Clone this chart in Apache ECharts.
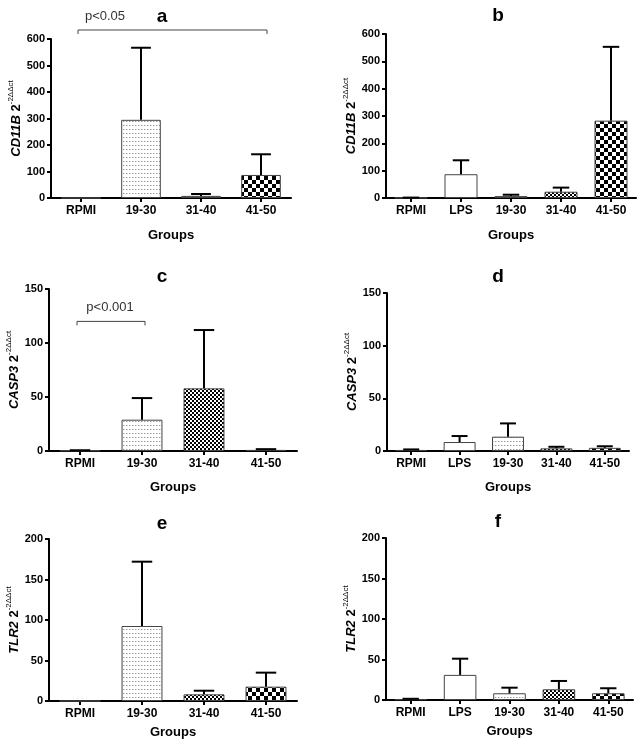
<!DOCTYPE html>
<html>
<head>
<meta charset="utf-8">
<script src="https://cdn.jsdelivr.net/npm/echarts@6/dist/echarts.min.js"></script>
<style>
html,body{margin:0;padding:0;background:#fff;}
#chart{width:638px;height:744px;}
</style>
</head>
<body>
<div id="chart"></div>
<script>
// ---------- DATA ----------
const groups4 = ['RPMI', '19-30', '31-40', '41-50'];
const groups5 = ['RPMI', 'LPS', '19-30', '31-40', '41-50'];

// CD11B (a: 4 groups, b: 5 groups) mean and upper error (SEM)
const cd11bA_mean = [0, 295, 8, 87];
const cd11bA_err  = [0, 272, 7, 78];
const cd11bB_mean = [1, 87, 7, 23, 283];
const cd11bB_err  = [0.5, 51, 5, 15, 270];

// CASP3
const casp3C_mean = [0.5, 29, 58, 1];
const casp3C_err  = [0.2, 20, 54, 0.7];
const casp3D_mean = [1, 8.5, 13.6, 2.5, 3];
const casp3D_err  = [0.5, 5.7, 12.6, 1.5, 1.5];

// TLR2
const tlr2E_mean = [0, 92.6, 8.2, 17.7];
const tlr2E_err  = [0, 79.4, 4.5, 17.3];
const tlr2F_mean = [1, 31, 8.3, 13.2, 8.3];
const tlr2F_err  = [0.5, 20, 6.9, 10.3, 6.2];

const yTicksCD11B = [0, 600, 100];
const yTicksCASP3 = [0, 150, 50];
const yTicksTLR2  = [0, 200, 50];

// significance brackets: [startIndex, endIndex, value]
const bracketA = [[0, 3, 634]];
const bracketC = [[0, 1, 120]];

// ---------- STYLES ----------
function makeCanvas(w, h, draw) {
  const c = document.createElement('canvas');
  c.width = w; c.height = h;
  const ctx = c.getContext('2d');
  ctx.fillStyle = '#fff'; ctx.fillRect(0, 0, w, h);
  draw(ctx);
  return c;
}
const dotsCanvas = makeCanvas(3, 4, ctx => { ctx.fillStyle = '#999'; ctx.fillRect(0, 1, 1, 1); ctx.fillStyle = '#d4d4d4'; ctx.fillRect(1, 1, 1, 1); });
const fineCanvas = makeCanvas(4, 4, ctx => { ctx.fillStyle = '#000'; ctx.fillRect(0, 0, 2, 2); ctx.fillRect(2, 2, 2, 2); });
const largeCanvas = makeCanvas(8, 8, ctx => { ctx.fillStyle = '#000'; ctx.fillRect(0, 0, 4, 4); ctx.fillRect(4, 4, 4, 4); });
const fills = {
  white: '#ffffff',
  dots: { image: dotsCanvas, repeat: 'repeat' },
  fine: { image: fineCanvas, repeat: 'repeat' },
  large: { image: largeCanvas, repeat: 'repeat' }
};
const fillByGroup = { 'RPMI': 'white', 'LPS': 'white', '19-30': 'dots', '31-40': 'fine', '41-50': 'large' };

const FONT = 'Arial, "Liberation Sans", Helvetica, sans-serif';

const panels = [
  { cats: groups4, mean: cd11bA_mean, err: cd11bA_err, ticks: yTicksCD11B, gene: 'CD11B', grid: { left: 51, top: 39, width: 240, height: 159 }, nameGap: 31, bracket: bracketA, extendRight: 6 },
  { cats: groups5, mean: cd11bB_mean, err: cd11bB_err, ticks: yTicksCD11B, gene: 'CD11B', grid: { left: 386, top: 34, width: 250, height: 164 }, nameGap: 31 },
  { cats: groups4, mean: casp3C_mean, err: casp3C_err, ticks: yTicksCASP3, gene: 'CASP3', grid: { left: 49, top: 289, width: 248, height: 162 }, nameGap: 30, bracket: bracketC, extendRight: 3 },
  { cats: groups5, mean: casp3D_mean, err: casp3D_err, ticks: yTicksCASP3, gene: 'CASP3', grid: { left: 387, top: 293, width: 242, height: 158 }, nameGap: 30 },
  { cats: groups4, mean: tlr2E_mean, err: tlr2E_err, ticks: yTicksTLR2, gene: 'TLR2', grid: { left: 49, top: 539, width: 248, height: 162 }, nameGap: 25 },
  { cats: groups5, mean: tlr2F_mean, err: tlr2F_err, ticks: yTicksTLR2, gene: 'TLR2', grid: { left: 386, top: 538, width: 247, height: 162 }, nameGap: 25 }
];

const grid = [], xAxis = [], yAxis = [], series = [];
panels.forEach((p, k) => {
  grid.push(Object.assign({ containLabel: false }, p.grid));
  xAxis.push({
    type: 'category', gridIndex: k, data: p.cats,
    axisLine: { show: true, lineStyle: { color: '#000', width: 2 } },
    axisTick: { show: true, alignWithLabel: true, length: 4, lineStyle: { color: '#000', width: 2 } },
    axisLabel: { color: '#000', fontWeight: 'bold', fontSize: 12, fontFamily: FONT, margin: 7, interval: 0 },
    name: 'Groups', nameLocation: 'middle', nameGap: p.nameGap,
    nameTextStyle: { color: '#000', fontWeight: 'bold', fontSize: 13, fontFamily: FONT }
  });
  yAxis.push({
    type: 'value', gridIndex: k, min: p.ticks[0], max: p.ticks[1], interval: p.ticks[2],
    axisLine: { show: true, lineStyle: { color: '#000', width: 2 } },
    axisTick: { show: true, length: 4, lineStyle: { color: '#000', width: 2 } },
    splitLine: { show: false },
    axisLabel: { color: '#000', fontWeight: 'bold', fontSize: 11, fontFamily: FONT, margin: 6 },
    name: '{g|' + p.gene + '}{n| 2}{s|-2ΔΔct}',
    nameLocation: 'middle', nameRotate: 90, nameGap: 27,
    nameTextStyle: {
      color: '#000', fontFamily: FONT,
      rich: {
        g: { fontStyle: 'italic', fontWeight: 'bold', fontSize: 13, fontFamily: FONT, color: '#000', lineHeight: 16, verticalAlign: 'bottom' },
        n: { fontWeight: 'bold', fontSize: 13, fontFamily: FONT, color: '#000', lineHeight: 16, verticalAlign: 'bottom' },
        s: { fontSize: 8, fontFamily: FONT, color: '#000', lineHeight: 9, verticalAlign: 'top' }
      }
    }
  });
  series.push({
    type: 'bar', xAxisIndex: k, yAxisIndex: k, barWidth: '66%',
    data: p.mean.map((v, i) => ({ value: v, itemStyle: { color: fills[fillByGroup[p.cats[i]]], borderColor: '#444', borderWidth: 1 } })),
    silent: true
  });
  series.push({
    type: 'custom', xAxisIndex: k, yAxisIndex: k, clip: false, z: 5,
    data: p.mean.map((v, i) => [i, v, v + p.err[i]]),
    encode: { x: 0, y: [1, 2] },
    renderItem: function (params, api) {
      const lo = api.value(1), hi = api.value(2);
      if (hi - lo <= 0) return null;
      const p0 = api.coord([api.value(0), lo]);
      const p1 = api.coord([api.value(0), hi]);
      const band = api.size([1, 0])[0];
      const half = band * 0.66 / 4;
      const st = { stroke: '#000', lineWidth: 2 };
      return {
        type: 'group', children: [
          { type: 'line', shape: { x1: p0[0], y1: p0[1], x2: p1[0], y2: p1[1] }, style: st },
          { type: 'line', shape: { x1: p1[0] - half, y1: p1[1], x2: p1[0] + half, y2: p1[1] }, style: st }
        ]
      };
    }
  });
  if (p.bracket) {
    const ext = p.extendRight || 0;
    series.push({
      type: 'custom', xAxisIndex: k, yAxisIndex: k, clip: false, z: 5,
      data: p.bracket,
      encode: { x: [0, 1], y: 2 },
      renderItem: function (params, api) {
        const a = api.coord([api.value(0), api.value(2)]);
        const b = api.coord([api.value(1), api.value(2)]);
        return {
          type: 'polyline',
          shape: { points: [[a[0] - 3, a[1] + 4], [a[0] - 3, a[1]], [b[0] + ext, b[1]], [b[0] + ext, b[1] + 4]] },
          style: { stroke: '#444', lineWidth: 1, fill: null }
        };
      }
    });
  }
});

const titleFont = 'bold 19px ' + FONT;
const pFont = '13px ' + FONT;
function txt(text, x, y, font, color) {
  return { type: 'text', x: x, y: y, style: { text: text, font: font, fill: color || '#000', align: 'center', verticalAlign: 'middle' } };
}
const graphic = [
  txt('a', 162, 17, titleFont), txt('b', 498, 16, titleFont),
  txt('c', 162, 277, titleFont), txt('d', 498, 277, titleFont),
  txt('e', 162, 524, titleFont), txt('f', 498, 522, titleFont),
  txt('p<0.05', 105, 16, pFont, '#333'),
  txt('p<0.001', 110, 307, pFont, '#333')
];

const chart = echarts.init(document.getElementById('chart'), null, { renderer: 'canvas' });
chart.setOption({
  backgroundColor: '#fff',
  animation: false,
  textStyle: { fontFamily: FONT },
  grid: grid, xAxis: xAxis, yAxis: yAxis, series: series, graphic: graphic
});
</script>
</body>
</html>
